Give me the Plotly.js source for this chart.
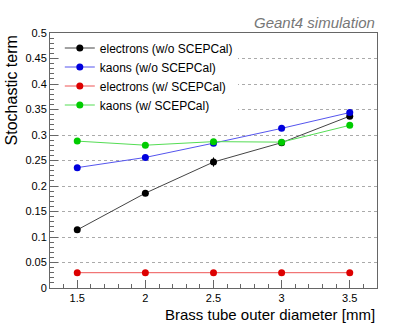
<!DOCTYPE html>
<html>
<head>
<meta charset="utf-8">
<script src="https://cdn.plot.ly/plotly-3.0.1.min.js"></script>
<style>
  html, body { margin: 0; padding: 0; background: #fff; }
  #chart { width: 419px; height: 331px; }
</style>
</head>
<body>
<div id="chart"></div>
<script>
// Brass tube outer diameter [mm]
const diameters = [1.5, 2, 2.5, 3, 3.5];

// Stochastic term per configuration
const electronsNoScep = [0.114, 0.186, 0.247, 0.285, 0.337];
const electronsNoScepErr = [0.003, 0.003, 0.009, 0.003, 0.004];
const kaonsNoScep = [0.236, 0.256, 0.284, 0.313, 0.344];
const electronsScep = [0.030, 0.030, 0.030, 0.030, 0.030];
const kaonsScep = [0.288, 0.280, 0.287, 0.286, 0.319];

const seriesNames = [
  'electrons (w/o SCEPCal)',
  'kaons (w/o SCEPCal)',
  'electrons (w/ SCEPCal)',
  'kaons (w/ SCEPCal)'
];

const font = 'Liberation Sans, Arial, sans-serif';

function series(name, y, markerColor, lineColor, err) {
  const t = {
    x: diameters,
    y: y,
    name: name,
    type: 'scatter',
    mode: 'lines+markers',
    line: { color: lineColor, width: 1 },
    marker: { color: markerColor, size: 7 }
  };
  if (err) {
    t.error_y = { type: 'data', array: err, visible: true, color: markerColor, thickness: 1, width: 0 };
  }
  return t;
}

const data = [
  series(seriesNames[0], electronsNoScep, '#000000', '#444444', electronsNoScepErr),
  series(seriesNames[1], kaonsNoScep, '#0000dd', '#5555ee'),
  series(seriesNames[2], electronsScep, '#dd0000', '#ee5555'),
  series(seriesNames[3], kaonsScep, '#00cc00', '#55dd55')
];

const layout = {
  width: 419,
  height: 331,
  margin: { l: 50, r: 42, t: 33, b: 43 },
  paper_bgcolor: '#ffffff',
  plot_bgcolor: '#ffffff',
  font: { family: font, color: '#000', size: 11 },
  showlegend: true,
  legend: {
    x: 0.03, y: 0.998, xanchor: 'left', yanchor: 'top',
    bgcolor: '#ffffff',
    font: { family: font, size: 12, color: '#000' },
    itemwidth: 30,
    tracegroupgap: 0
  },
  xaxis: {
    range: [1.3, 3.7],
    dtick: 0.5,
    tick0: 1.5,
    ticks: 'inside',
    ticklen: 8,
    tickcolor: '#666',
    showgrid: false,
    zeroline: false,
    showline: true,
    linecolor: '#666',
    mirror: true,
    tickfont: { size: 11 },
    minor: { dtick: 0.1, ticks: 'inside', ticklen: 4, tickcolor: '#666', showgrid: false }
  },
  yaxis: {
    range: [0, 0.5],
    dtick: 0.05,
    ticks: 'inside',
    ticklen: 8,
    tickcolor: '#666',
    showgrid: true,
    gridcolor: '#aaaaaa',
    griddash: 'dot',
    gridwidth: 1,
    zeroline: false,
    showline: true,
    linecolor: '#666',
    mirror: true,
    tickfont: { size: 11 },
    minor: { dtick: 0.01, ticks: 'inside', ticklen: 4, tickcolor: '#666', showgrid: false }
  },
  annotations: [
    {
      text: 'Geant4 simulation',
      xref: 'paper', yref: 'paper',
      x: 1, y: 1.04, xanchor: 'right', yanchor: 'middle',
      showarrow: false,
      font: { family: font, size: 15, color: '#777', style: 'italic' }
    },
    {
      text: 'Brass tube outer diameter [mm]',
      xref: 'paper', yref: 'paper',
      x: 1, y: -0.102, xanchor: 'right', yanchor: 'middle',
      showarrow: false,
      font: { family: font, size: 15, color: '#000' }
    },
    {
      text: 'Stochastic term',
      xref: 'paper', yref: 'paper',
      x: -0.118, y: 1, xanchor: 'center', yanchor: 'top',
      textangle: -90,
      showarrow: false,
      font: { family: font, size: 16, color: '#000' }
    }
  ]
};

Plotly.newPlot('chart', data, layout, { staticPlot: true });
</script>
</body>
</html>
